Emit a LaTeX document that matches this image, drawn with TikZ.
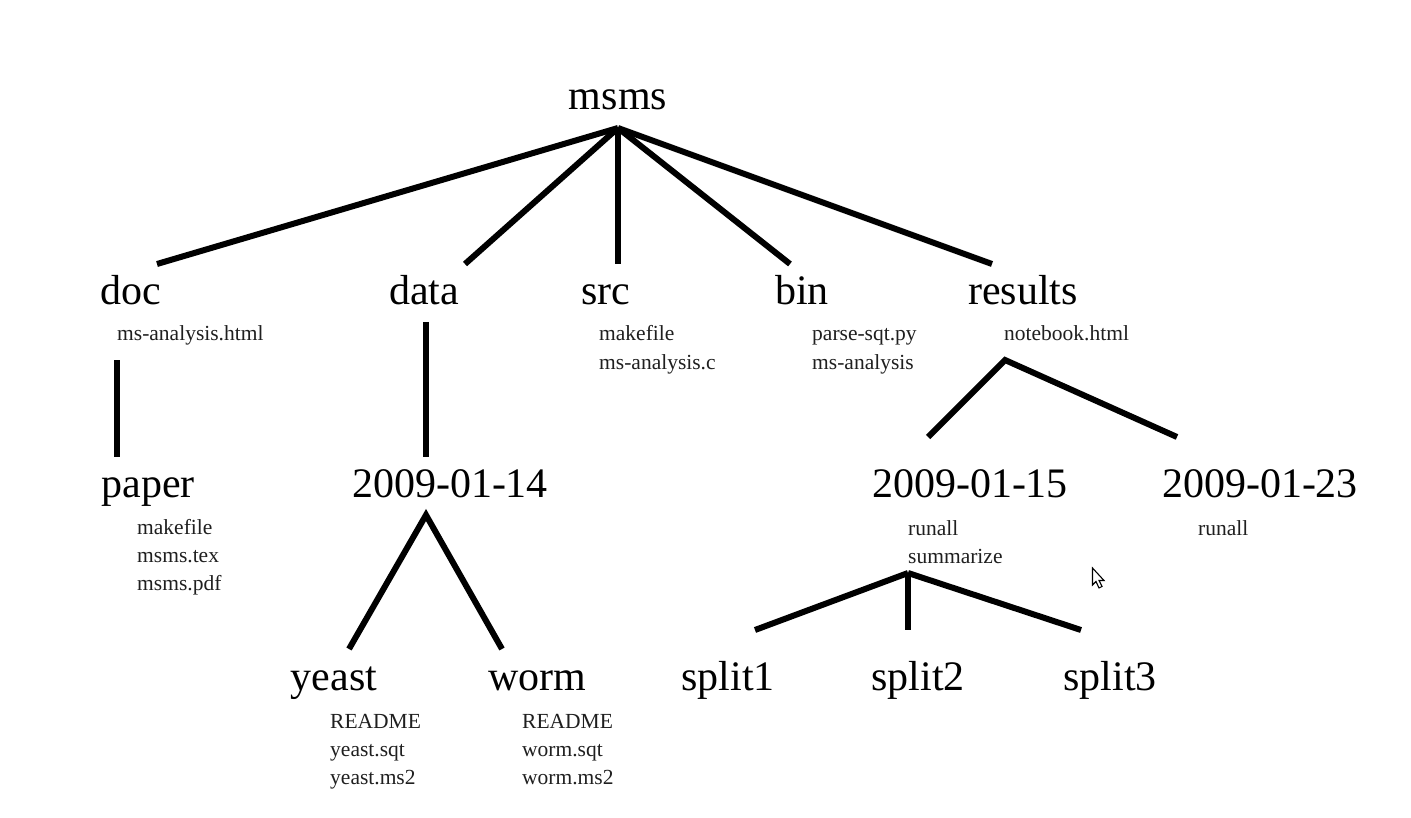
\documentclass[tikz,border=0pt]{standalone}
\usepackage{fontspec}
\setmainfont{Liberation Serif}
\begin{document}
\begin{tikzpicture}[x=1pt,y=-1pt,
  dir/.style={inner sep=0pt,anchor=base,font=\fontsize{42}{50}\selectfont},
  file/.style={inner sep=0pt,anchor=base west,font=\fontsize{21.5}{28}\selectfont,text=black!88},
  branch/.style={line width=6pt}]
\useasboundingbox[fill=white] (0,0) rectangle (1411,818);

% directory names
\node[dir] (msms)   at (618,110) {msms};
\node[dir] (doc)    at (131,305) {doc};
\node[dir] (data)   at (424,305) {data};
\node[dir] (src)    at (606,305) {src};
\node[dir] (bin)    at (802,305) {bin};
\node[dir] (results) at (1023,305) {results};
\node[dir] (paper)  at (148,497) {paper};
\node[dir] (d14)    at (450,497) {2009-01-14};
\node[dir] (d15)    at (970,497) {2009-01-15};
\node[dir] (d23)    at (1260,497) {2009-01-23};
\node[dir] (yeast)  at (334,690) {yeast};
\node[dir] (worm)   at (537,690) {worm};
\node[dir] (split1) at (728,690) {split1};
\node[dir] (split2) at (918,690) {split2};
\node[dir] (split3) at (1110,690) {split3};

% file listings
\newcommand\filelist[4]{%
  \foreach \t [count=\k] in {#4}
    \node[file] (#1-\k) at (#2,#3+28*\k-28) {\t};}
\filelist{docf}{117}{341}{ms-analysis.html}
\filelist{srcf}{599}{341}{makefile,ms-analysis.c}
\filelist{binf}{812}{341}{parse-sqt.py,ms-analysis}
\filelist{resf}{1004}{341}{notebook.html}
\filelist{paperf}{137}{534}{makefile,msms.tex,msms.pdf}
\filelist{fifteenf}{908}{535}{runall,summarize}
\filelist{twentythreef}{1198}{535}{runall}
\filelist{yeastf}{330}{728}{README,yeast.sqt,yeast.ms2}
\filelist{wormf}{522}{728}{README,worm.sqt,worm.ms2}

% branch points and line ends
\coordinate (msms-out) at (618,128);
\coordinate (doc-in) at (157,264);
\coordinate (data-in) at (465,264);
\coordinate (src-in) at (618,264);
\coordinate (bin-in) at (790,264);
\coordinate (results-in) at (992,264);
\coordinate (doc-out) at (117,360);
\coordinate (paper-in) at (117,457);
\coordinate (data-out) at (426,322);
\coordinate (d14-in) at (426,457);
\coordinate (results-out) at (1005,360);
\coordinate (d15-in) at (928,437);
\coordinate (d23-in) at (1177,437);
\coordinate (d14-out) at (426,515);
\coordinate (yeast-in) at (349,649);
\coordinate (worm-in) at (502,649);
\coordinate (d15-out) at (908,573);
\coordinate (split1-in) at (755,630);
\coordinate (split2-in) at (908,630);
\coordinate (split3-in) at (1081,630);

% tree branches
\foreach \c in {doc,data,src,bin,results}
  \draw[branch] (msms-out) -- (\c-in);
\draw[branch] (doc-out) -- (paper-in);
\draw[branch] (data-out) -- (d14-in);
\draw[branch] (d23-in) -- (results-out) -- (d15-in);
\draw[branch] (worm-in) -- (d14-out) -- (yeast-in);
\foreach \c in {split1,split2,split3}
  \draw[branch] (d15-out) -- (\c-in);

% mouse pointer
\draw[line width=1.1pt,fill=white,line join=miter]
  (1092.5,568) -- (1092.5,585) -- (1096,581.5) -- (1099,588) -- (1102,586.5)
  -- (1099,580.5) -- (1104,580.5) -- cycle;
\end{tikzpicture}
\end{document}
